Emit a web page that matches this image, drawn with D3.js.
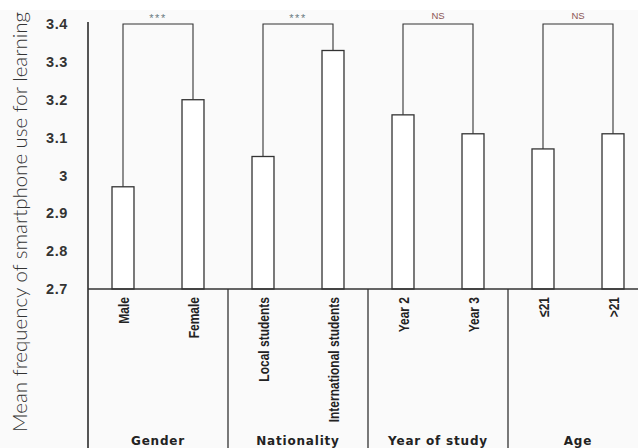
<!DOCTYPE html>
<html>
<head>
<meta charset="utf-8">
<script src="https://cdn.jsdelivr.net/npm/d3@7"></script>
<style>
  body { margin: 0; background: #fafafa; }
  svg { display: block; }
</style>
</head>
<body>
<div id="chart"></div>
<script>
// chart values
var categories = ["Male", "Female", "Local students", "International students", "Year 2", "Year 3", "\u226421", ">21"];
var categoryGroup = ["Gender", "Gender", "Nationality", "Nationality", "Year of study", "Year of study", "Age", "Age"];
var groups = ["Gender", "Nationality", "Year of study", "Age"];
var means = [2.97, 3.20, 3.05, 3.33, 3.16, 3.11, 3.07, 3.11];
var sigLabels = ["***", "***", "NS", "NS"];
var yTicks = [2.7, 2.8, 2.9, 3.0, 3.1, 3.2, 3.3, 3.4];
var yTitle = "Mean frequency of smartphone use for learning";

function drawChart() {
    var width = 638, height = 448;
    var margin = {top: 24, right: -10, bottom: 159, left: 88};
    var plotBottom = height - margin.bottom;

    var svg = d3.select("#chart").append("svg")
        .attr("width", width)
        .attr("height", height);

    // top strip is white in the original
    svg.append("rect").attr("x", 0).attr("y", 0).attr("width", width).attr("height", 10).attr("fill", "#fff");

    // set the ranges
    var x = d3.scaleBand()
        .domain(categories)
        .range([margin.left, width - margin.right])
        .paddingInner(0.686)
        .paddingOuter(0.343);
    var xg = d3.scaleBand()
        .domain(groups)
        .range([margin.left, width - margin.right]);
    var y = d3.scaleLinear()
        .domain([2.7, 3.4])
        .range([plotBottom, margin.top]);

    var ink = "#333";

    // bars
    svg.selectAll(".bar")
        .data(means)
        .enter().append("rect")
        .attr("class", "bar")
        .attr("x", function(d, i) { return x(categories[i]); })
        .attr("width", x.bandwidth())
        .attr("y", function(d) { return y(d); })
        .attr("height", function(d) { return plotBottom - y(d); })
        .attr("fill", "#fff")
        .attr("stroke", ink)
        .attr("stroke-width", 1.3);

    // significance brackets
    groups.forEach(function(g, gi) {
        var idx = [];
        categories.forEach(function(c, i) { if (categoryGroup[i] === g) idx.push(i); });
        var x0 = x(categories[idx[0]]) + x.bandwidth() / 2;
        var x1 = x(categories[idx[1]]) + x.bandwidth() / 2;
        var yt = y(3.4);
        svg.append("path")
            .attr("d", "M" + x0 + "," + y(means[idx[0]]) + "V" + yt + "H" + x1 + "V" + y(means[idx[1]]))
            .attr("fill", "none")
            .attr("stroke", ink)
            .attr("stroke-width", 1.1);
        var ns = sigLabels[gi] === "NS";
        svg.append("text")
            .attr("x", (x0 + x1) / 2)
            .attr("y", ns ? 19 : 22)
            .attr("text-anchor", "middle")
            .attr("font-family", "Liberation Sans, Arial, sans-serif")
            .attr("font-size", ns ? 9.5 : 11)
            .attr("letter-spacing", ns ? 0 : 1.5)
            .attr("fill", ns ? "#8a5555" : "#6a7a80")
            .text(sigLabels[gi]);
    });

    // y axis
    var yAxis = svg.append("g")
        .attr("transform", "translate(" + margin.left + ",0)")
        .call(d3.axisLeft(y).tickValues(yTicks).tickSize(0).tickPadding(20)
            .tickFormat(function(d) { return d3.format("~g")(d); }));
    yAxis.select(".domain").remove();
    yAxis.selectAll("text")
        .attr("font-family", "Liberation Sans, Arial, sans-serif")
        .attr("font-weight", "bold")
        .attr("font-size", 14.5)
        .attr("letter-spacing", 0.6)
        .attr("fill", ink);

    // axis frame lines
    svg.append("line").attr("x1", margin.left).attr("x2", margin.left).attr("y1", margin.top - 2).attr("y2", height)
        .attr("stroke", "#555").attr("stroke-width", 2);
    svg.append("line").attr("x1", margin.left).attr("x2", width).attr("y1", plotBottom).attr("y2", plotBottom)
        .attr("stroke", ink).attr("stroke-width", 1.3);

    // group separators
    svg.selectAll(".sep")
        .data(groups.slice(1))
        .enter().append("line")
        .attr("class", "sep")
        .attr("x1", function(d) { return xg(d); })
        .attr("x2", function(d) { return xg(d); })
        .attr("y1", plotBottom)
        .attr("y2", height)
        .attr("stroke", ink)
        .attr("stroke-width", 1.3);

    // category labels (condensed)
    svg.selectAll(".cat")
        .data(categories)
        .enter().append("text")
        .attr("class", "cat")
        .attr("transform", function(d) {
            return "translate(" + (x(d) + x.bandwidth() / 2 + 5.5) + "," + (plotBottom + 8) + ") rotate(-90) scale(0.8,1)";
        })
        .attr("text-anchor", "end")
        .attr("font-family", "Liberation Sans, Arial, sans-serif")
        .attr("font-weight", "bold")
        .attr("font-size", 15)
        .attr("fill", "#222")
        .text(function(d) { return d; });

    // group labels
    svg.selectAll(".grp")
        .data(groups)
        .enter().append("text")
        .attr("class", "grp")
        .attr("x", function(d) { return xg(d) + xg.bandwidth() / 2; })
        .attr("y", 445)
        .attr("text-anchor", "middle")
        .attr("font-family", "DejaVu Sans, sans-serif")
        .attr("font-weight", "bold")
        .attr("font-size", 12)
        .attr("letter-spacing", 0.8)
        .attr("fill", "#222")
        .text(function(d) { return d; });

    // y title
    svg.append("text")
        .attr("transform", "translate(27,222) rotate(-90)")
        .attr("text-anchor", "middle")
        .attr("font-family", "Lato, Open Sans, sans-serif")
        .attr("font-weight", 300)
        .attr("font-size", 19)
        .attr("textLength", 420)
        .attr("lengthAdjust", "spacingAndGlyphs")
        .attr("fill", "#333")
        .text(yTitle);
}

drawChart();
</script>
</body>
</html>
